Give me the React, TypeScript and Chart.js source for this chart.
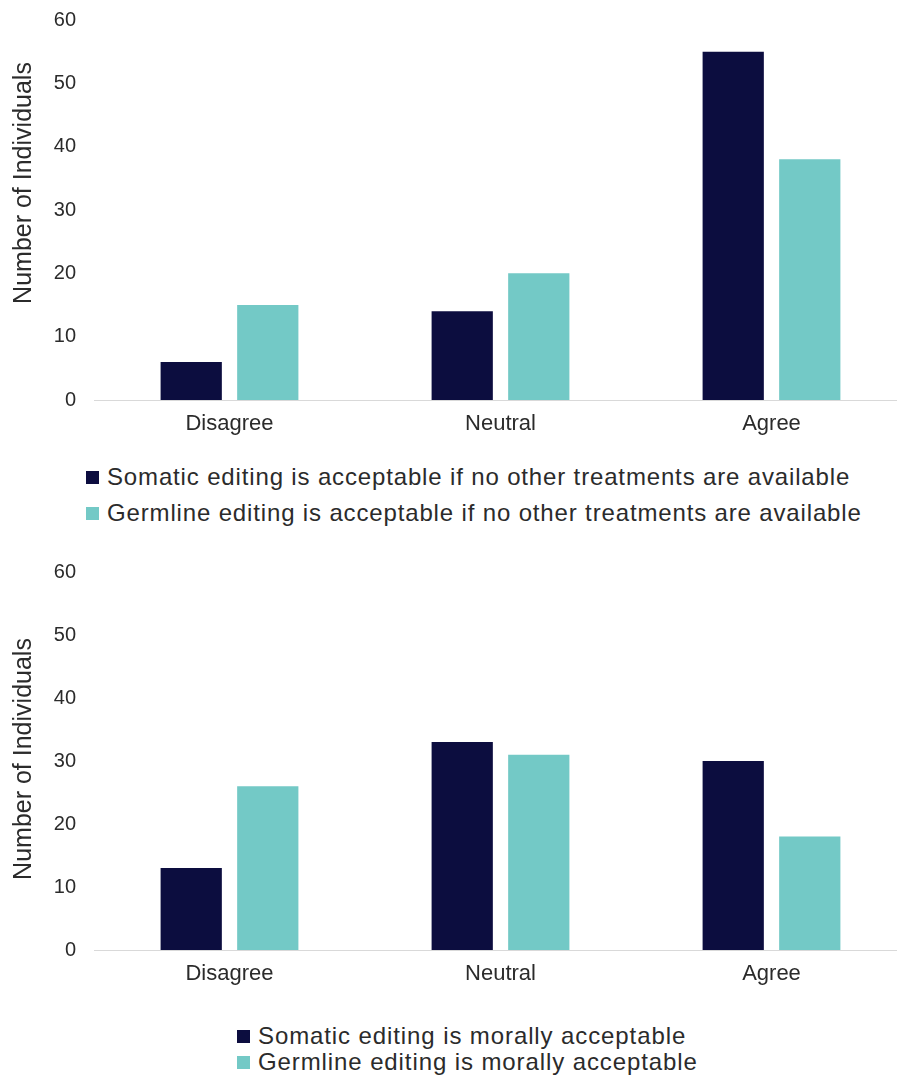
import React, { useEffect, useRef } from "react";
import { Chart, registerables } from "chart.js";

Chart.register(...registerables);

const categories = ["Disagree", "Neutral", "Agree"];
const topSomatic = [6, 14, 55];
const topGermline = [15, 20, 38];
const bottomSomatic = [13, 33, 30];
const bottomGermline = [26, 31, 18];
const yTicks = [0, 10, 20, 30, 40, 50, 60];

const topLabels = [
  "Somatic editing is acceptable if no other treatments are available",
  "Germline editing is acceptable if no other treatments are available",
];
const bottomLabels = [
  "Somatic editing is morally acceptable",
  "Germline editing is morally acceptable",
];
const yTitle = "Number of Individuals";

const NAVY = "#0c0d3f";
const TEAL = "#73c9c6";
const TEXT = "#2b2b2b";
const FONT = "'Liberation Sans', Arial, sans-serif";

const yTitlePlugin = {
  id: "yTitlePlugin",
  afterDraw(chart: any, _args: any, opts: any) {
    const ctx = chart.ctx;
    ctx.save();
    ctx.translate(opts.x, opts.y);
    ctx.rotate(-Math.PI / 2);
    ctx.font = `${opts.size}px ${FONT}`;
    ctx.fillStyle = TEXT;
    ctx.textAlign = "center";
    ctx.textBaseline = "middle";
    ctx.fillText(opts.text, 0, 0);
    ctx.restore();
  },
};

function BarChart(props: {
  somatic: number[];
  germline: number[];
  names: string[];
  padTop: number;
  titleY: number;
}) {
  const ref = useRef<HTMLCanvasElement | null>(null);
  useEffect(() => {
    if (!ref.current) return;
    const chart = new Chart(ref.current, {
      type: "bar",
      data: {
        labels: categories,
        datasets: [
          {
            label: props.names[0],
            data: props.somatic,
            backgroundColor: NAVY,
            barPercentage: 0.8,
            categoryPercentage: 0.565,
          },
          {
            label: props.names[1],
            data: props.germline,
            backgroundColor: TEAL,
            barPercentage: 0.8,
            categoryPercentage: 0.565,
          },
        ],
      },
      options: {
        responsive: false,
        animation: false,
        devicePixelRatio: 1,
        layout: { padding: { top: props.padTop, right: 5, left: 0, bottom: 0 } },
        plugins: {
          legend: { display: false },
          tooltip: { enabled: false },
          yTitlePlugin: { text: yTitle, x: 24, y: props.titleY, size: 25 },
        } as any,
        scales: {
          x: {
            grid: { display: false, drawTicks: false },
            border: { display: true, color: "#d9d9d9", width: 1 },
            ticks: {
              color: TEXT,
              font: { family: FONT, size: 22 },
              padding: 11,
            },
            afterFit: (s: any) => {
              s.height = 40;
              s.paddingLeft = 0;
              s.paddingRight = 0;
            },
          },
          y: {
            min: 0,
            max: 60,
            grid: { display: false, drawTicks: false },
            border: { display: false },
            afterBuildTicks: (s: any) => {
              s.ticks = yTicks.map((v) => ({ value: v }));
            },
            ticks: {
              color: TEXT,
              font: { family: FONT, size: 20 },
              padding: 18,
            },
            afterFit: (s: any) => {
              s.width = 94;
              s.paddingTop = 0;
              s.paddingBottom = 0;
            },
          },
        },
      },
      plugins: [yTitlePlugin],
    });
    return () => chart.destroy();
  }, []);
  return (
    <canvas
      ref={ref}
      width={912}
      height={440}
      style={{ width: 912, height: 440, display: "block" }}
    />
  );
}

function Legend(props: {
  names: string[];
  left: number;
  top: number;
  gap: number;
  size: number;
  spacing: number;
}) {
  const colors = [NAVY, TEAL];
  return (
    <div style={{ position: "absolute", left: props.left, top: props.top }}>
      {props.names.map((n, i) => (
        <div
          key={n}
          style={{
            display: "flex",
            alignItems: "center",
            height: props.gap,
            whiteSpace: "nowrap",
          }}
        >
          <div
            style={{
              width: 13,
              height: 13,
              background: colors[i],
              marginRight: 8,
              flex: "none",
            }}
          />
          <span
            style={{
              fontFamily: FONT,
              fontSize: props.size,
              letterSpacing: props.spacing,
              color: TEXT,
              lineHeight: 1,
            }}
          >
            {n}
          </span>
        </div>
      ))}
    </div>
  );
}

export default function App() {
  return (
    <div
      style={{
        position: "absolute",
        left: 0,
        top: 0,
        width: 897,
        height: 1080,
        overflow: "hidden",
        background: "#ffffff",
      }}
    >
      <div style={{ position: "absolute", left: 0, top: 0 }}>
        <BarChart
          somatic={topSomatic}
          germline={topGermline}
          names={topLabels}
          padTop={20}
          titleY={183}
        />
      </div>
      <Legend names={topLabels} left={86} top={459} gap={36} size={24} spacing={0.85} />
      <div style={{ position: "absolute", left: 0, top: 550 }}>
        <BarChart
          somatic={bottomSomatic}
          germline={bottomGermline}
          names={bottomLabels}
          padTop={22}
          titleY={209}
        />
      </div>
      <Legend names={bottomLabels} left={237} top={1023} gap={26} size={24} spacing={0.9} />
    </div>
  );
}
